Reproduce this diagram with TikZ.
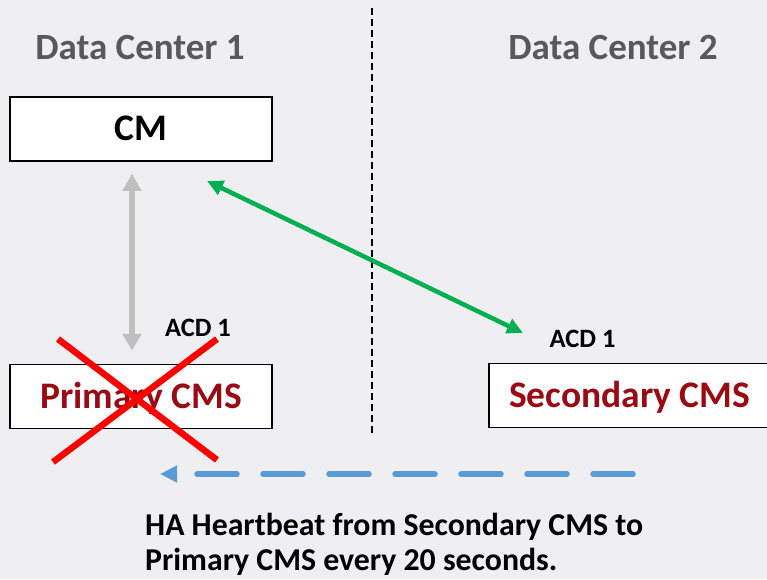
\documentclass[tikz,border=0pt]{standalone}
\usepackage{fontspec}
\setmainfont{Carlito}
\usetikzlibrary{arrows.meta}

\definecolor{bgGray}{RGB}{239,239,242}
\definecolor{dcGray}{RGB}{89,89,89}
\definecolor{cmsRed}{RGB}{152,10,20}
\definecolor{linkGreen}{RGB}{0,176,80}
\definecolor{linkGray}{RGB}{191,191,191}
\definecolor{hbBlue}{RGB}{91,155,213}

\begin{document}
\begin{tikzpicture}[x=1pt,y=-1pt,
    box/.style={draw=black,line width=1.5pt,fill=white,minimum height=64pt,
      inner sep=0pt,text height=23pt,text depth=0pt,
      font=\fontsize{37.5}{40}\selectfont\bfseries},
    dclabel/.style={anchor=base,text=dcGray,font=\fontsize{37}{40}\selectfont\bfseries},
    acdlabel/.style={font=\fontsize{26.5}{28}\selectfont\bfseries},
    grayLink/.style={draw=linkGray,line width=5.5pt,
      {Triangle[length=17pt,width=18pt]}-{Triangle[length=17pt,width=18pt]}},
    greenLink/.style={draw=linkGreen,line width=4.5pt,
      {Triangle[length=16pt,width=15pt]}-{Triangle[length=16pt,width=15pt]}},
    hbLink/.style={draw=hbBlue,line width=5.5pt,line cap=round,
      dash pattern=on 40pt off 26pt,-{Triangle[length=17pt,width=16pt]}},
    crossRed/.style={draw=red,line width=6.5pt},
  ]
    \fill[bgGray] (0,0) rectangle (767,579);
    \useasboundingbox (0,0) rectangle (767,579);
    %
    \draw[line width=2pt,dash pattern=on 7pt off 4pt] (372,8) -- (372,435);
    %
    \node[dclabel] (dcOne) at (140,59) {Data Center 1};
    \node[dclabel] (dcTwo) at (613,59) {Data Center 2};
    %
    \node[box,minimum width=262pt] (cm) at (141,129) {CM};
    \node[box,minimum width=262pt,text=cmsRed] (primary) at (141,396.5) {Primary CMS};
    \node[box,minimum width=282pt,anchor=west,text=cmsRed] (secondary) at (488,395.5) {Secondary CMS};
    %
    \node[acdlabel] (acdOne) at (198,327.5) {ACD 1};
    \node[acdlabel] (acdTwo) at (582.5,338.5) {ACD 1};
    %
    \draw[grayLink,shorten <=12pt,shorten >=13pt]
      ([xshift=-9pt]cm.south) -- ([xshift=-9pt]primary.north);
    \coordinate (greenTop) at (207,181);
    \coordinate (greenEnd) at (523,333);
    \draw[greenLink] (greenTop) -- (greenEnd);
    %
    \draw[crossRed] (58,339) -- (217,460);
    \draw[crossRed] (217,339) -- (53,462);
    %
    \coordinate (hbFrom) at (633,474);
    \coordinate (hbTo) at (160,474);
    \draw[hbLink] (hbFrom) -- (hbTo);
    %
    \node[anchor=north west,align=left,inner sep=0pt,
      font=\fontsize{31.8}{35}\selectfont\bfseries] (note) at (145,513)
      {HA Heartbeat from Secondary CMS to\\Primary CMS every 20 seconds.};
\end{tikzpicture}
\end{document}
